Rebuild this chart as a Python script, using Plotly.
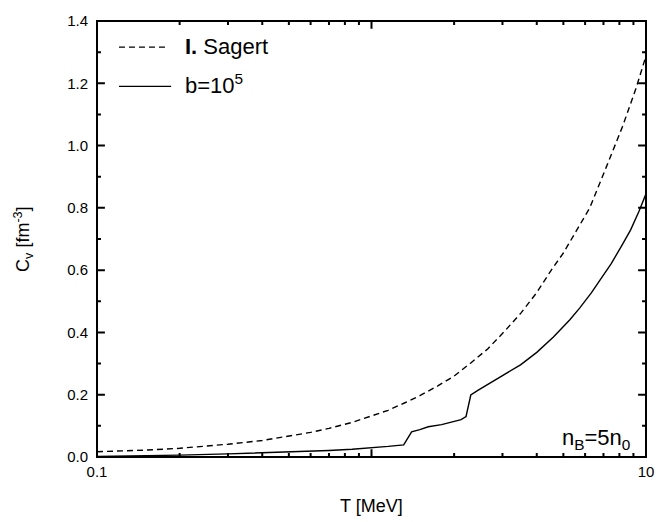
import math

import plotly.graph_objects as go

# I. Sagert curve (dashed)
t_sagert = [0.1, 0.15, 0.2, 0.3, 0.4, 0.5, 0.6, 0.7, 0.85, 1.0, 1.15, 1.33, 1.5, 1.75,
            2.0, 2.3, 2.65, 3.04, 3.5, 4.0, 4.5, 5.0, 5.43, 6.24, 7.16, 8.22, 9.19,
            9.84, 10.0]
cv_sagert = [0.017, 0.022, 0.028, 0.041, 0.053, 0.066, 0.079, 0.092, 0.111, 0.132,
             0.150, 0.175, 0.197, 0.229, 0.260, 0.302, 0.347, 0.402, 0.462, 0.528,
             0.598, 0.655, 0.708, 0.800, 0.930, 1.062, 1.183, 1.270, 1.288]

# b = 10^5 curve (solid)
t_b = [0.1, 0.15, 0.2, 0.3, 0.4, 0.5, 0.6, 0.7, 0.85, 1.0, 1.15, 1.31, 1.40, 1.50,
       1.61, 1.8, 2.0, 2.12, 2.21, 2.30, 2.44, 2.65, 3.04, 3.49, 4.0, 4.6, 5.28,
       5.74, 6.32, 7.0, 7.47, 8.2, 8.8, 9.43, 10.0]
cv_b = [0.002, 0.004, 0.006, 0.010, 0.013, 0.016, 0.019, 0.021, 0.025, 0.029, 0.034,
        0.039, 0.081, 0.088, 0.097, 0.104, 0.113, 0.120, 0.130, 0.199, 0.214, 0.233,
        0.262, 0.296, 0.336, 0.385, 0.441, 0.479, 0.527, 0.584, 0.621, 0.682, 0.730,
        0.789, 0.845]

x_major = [0.1, 1, 10]
x_major_text = ["0.1", "", "10"]
x_minor = [0.2, 0.3, 0.4, 0.5, 0.6, 0.7, 0.8, 0.9, 2, 3, 4, 5, 6, 7, 8, 9]
y_major = [0.0, 0.2, 0.4, 0.6, 0.8, 1.0, 1.2, 1.4]
y_minor = [0.1, 0.3, 0.5, 0.7, 0.9, 1.1, 1.3]

X_RANGE = [-1, 1]
Y_RANGE = [0, 1.4]

FONT = "Liberation Sans"
BLACK = "black"

fig = go.Figure()
fig.add_trace(go.Scatter(
    x=t_sagert, y=cv_sagert, mode="lines", name="I. Sagert",
    line=dict(color=BLACK, width=1.4, dash="6px,4px"),
))
fig.add_trace(go.Scatter(
    x=t_b, y=cv_b, mode="lines", name="b=10^5",
    line=dict(color=BLACK, width=1.4),
))

fig.update_xaxes(
    type="log", range=X_RANGE, tickmode="array", tickvals=x_major, ticktext=x_major_text,
    ticks="", showline=False, showgrid=False, zeroline=False, ticklabeloverflow="allow",
    tickfont=dict(size=15, color=BLACK, family=FONT), ticklabelstandoff=4,
)
fig.update_yaxes(
    range=Y_RANGE, tickmode="array", tickvals=y_major, tickformat=".1f",
    ticks="", showline=False, showgrid=False, zeroline=False, ticklabeloverflow="allow",
    tickfont=dict(size=15, color=BLACK, family=FONT), ticklabelstandoff=8,
)

fig.add_shape(type="rect", xref="paper", yref="paper", x0=0, x1=1, y0=0, y1=1,
              line=dict(color=BLACK, width=2), layer="above")


def x_frac(v):
    return (math.log10(v) - X_RANGE[0]) / (X_RANGE[1] - X_RANGE[0])


def y_frac(v):
    return (v - Y_RANGE[0]) / (Y_RANGE[1] - Y_RANGE[0])


# inward ticks on all four sides, as one path shape
segs = []
for vals, ln in ((x_major, 8), (x_minor, 4)):
    h = ln / 444.0
    for v in vals:
        px = x_frac(v)
        segs.append(f"M{px:.5f},0L{px:.5f},{h:.5f}")
        segs.append(f"M{px:.5f},1L{px:.5f},{1 - h:.5f}")
for vals, ln in ((y_major, 8), (y_minor, 4)):
    w = ln / 556.0
    for v in vals:
        py = y_frac(v)
        segs.append(f"M0,{py:.5f}L{w:.5f},{py:.5f}")
        segs.append(f"M1,{py:.5f}L{1 - w:.5f},{py:.5f}")
fig.add_shape(type="path", xref="paper", yref="paper", path="".join(segs),
              line=dict(color=BLACK, width=2), layer="above")

# axis titles
fig.add_annotation(
    text="T [MeV]", xref="paper", yref="paper", x=0.5, y=-0.113,
    xanchor="center", yanchor="middle", showarrow=False,
    font=dict(size=18, color=BLACK, family=FONT),
)
fig.add_annotation(
    text="C<sub>v</sub> [fm<sup>-3</sup>]", xref="paper", yref="paper", x=-0.135, y=0.5,
    xanchor="center", yanchor="middle", textangle=-90, showarrow=False,
    font=dict(size=18, color=BLACK, family=FONT),
)

# legend, drawn by hand to match the original layout
fig.add_shape(type="line", xref="paper", yref="paper", x0=0.040, x1=0.126, y0=0.940, y1=0.940,
              line=dict(color=BLACK, width=1.4, dash="6px,4px"))
fig.add_shape(type="line", xref="paper", yref="paper", x0=0.040, x1=0.135, y0=0.850, y1=0.850,
              line=dict(color=BLACK, width=1.4))
fig.add_annotation(
    text="<b>I.</b> Sagert", xref="paper", yref="paper", x=0.156, y=0.942,
    xanchor="left", yanchor="middle", showarrow=False,
    font=dict(size=22, color=BLACK, family=FONT),
)
fig.add_annotation(
    text="b=10<sup>5</sup>", xref="paper", yref="paper", x=0.156, y=0.855,
    xanchor="left", yanchor="middle", showarrow=False,
    font=dict(size=22, color=BLACK, family=FONT),
)

fig.add_annotation(
    text="n<sub>B</sub>=5n<sub>0</sub>", xref="paper", yref="paper",
    x=0.975, y=0.005, xanchor="right", yanchor="bottom", showarrow=False,
    font=dict(size=22, color=BLACK, family=FONT),
)

fig.update_layout(
    width=666, height=522,
    margin=dict(l=97, r=13, t=13, b=65),
    paper_bgcolor="white", plot_bgcolor="white",
    font=dict(family=FONT, color=BLACK),
    showlegend=False,
)

# drop the default 8px page margin so the figure fills the window exactly
fig.write_html("out.html", config={"displayModeBar": False},
               post_script="document.body.style.margin='0';")
